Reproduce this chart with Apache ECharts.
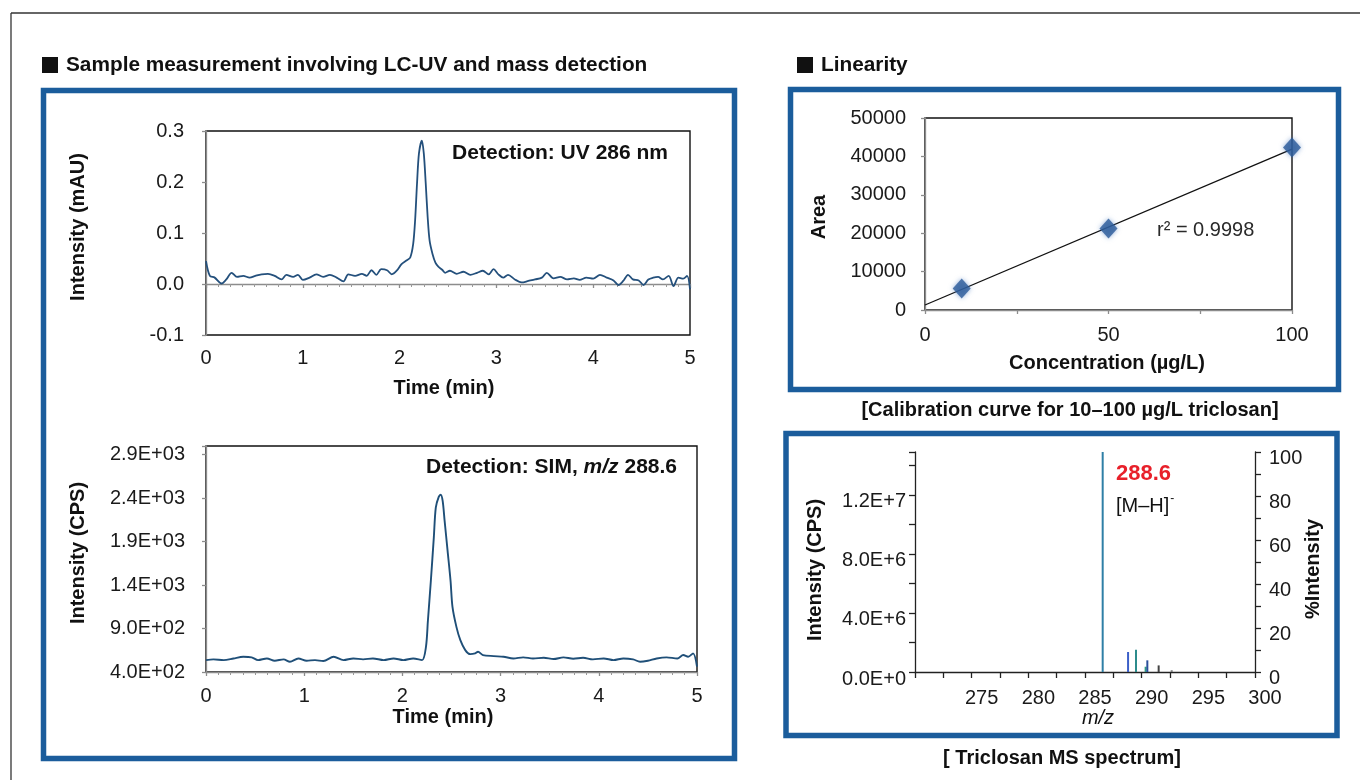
<!DOCTYPE html>
<html><head><meta charset="utf-8">
<script src="https://cdn.jsdelivr.net/npm/echarts@6.0.0/dist/echarts.min.js"></script>
<style>html,body{margin:0;padding:0;background:#fff}#c{width:1360px;height:780px}</style>
</head><body><div id="c"></div>
<script>
// ---------- Data ----------
const uvTime = [0,0.04,0.09,0.16,0.21,0.265,0.32,0.385,0.45,0.51,0.575,0.64,0.71,0.78,0.83,0.9,0.95,1.0,1.07,1.14,1.21,1.28,1.35,1.42,1.47,1.54,1.61,1.66,1.71,1.76,1.81,1.87,1.92,1.97,2.02,2.07,2.11,2.14,2.16,2.18,2.20,2.23,2.25,2.27,2.29,2.31,2.34,2.37,2.40,2.44,2.47,2.52,2.59,2.66,2.73,2.80,2.86,2.92,2.97,3.02,3.07,3.12,3.19,3.26,3.33,3.40,3.47,3.52,3.59,3.66,3.73,3.80,3.86,3.93,4.0,4.07,4.14,4.21,4.26,4.31,4.36,4.41,4.47,4.52,4.57,4.62,4.67,4.72,4.78,4.83,4.88,4.93,4.97,5.0];
const uvIntensity = [0.045,0.016,0.0125,0.001,0.009,0.022,0.014,0.016,0.0125,0.016,0.019,0.020,0.016,0.009,0.018,0.014,0.018,0.008,0.0125,0.019,0.014,0.018,0.0125,0.005,0.019,0.016,0.020,0.016,0.027,0.018,0.029,0.027,0.019,0.026,0.039,0.046,0.052,0.078,0.124,0.197,0.256,0.281,0.256,0.197,0.131,0.085,0.059,0.042,0.034,0.028,0.022,0.026,0.020,0.024,0.018,0.022,0.026,0.019,0.029,0.019,0.0125,0.018,0.009,0.003,0.006,0.009,0.0125,0.022,0.011,0.014,0.009,0.011,0.008,0.0125,0.0105,0.018,0.0125,0.007,-0.002,0.006,0.018,0.009,0.007,-0.002,0.009,0.0125,0.014,0.009,0.016,-0.004,0.0125,0.0105,0.016,-0.01];
const uvTicks = [-0.1,0,0.1,0.2,0.3];
const uvTickLabels = ['-0.1','0.0','0.1','0.2','0.3'];
const timeTicks = [0,1,2,3,4,5];
const timeTickLabels = ['0','1','2','3','4','5'];

const simTime = [0,0.075,0.18,0.28,0.38,0.465,0.53,0.62,0.70,0.79,0.855,0.94,1.025,1.11,1.195,1.30,1.40,1.50,1.60,1.70,1.81,1.91,2.01,2.11,2.20,2.24,2.26,2.29,2.32,2.34,2.37,2.39,2.41,2.43,2.46,2.49,2.51,2.55,2.59,2.64,2.69,2.74,2.77,2.82,2.93,3.03,3.13,3.23,3.33,3.44,3.54,3.64,3.74,3.84,3.94,4.05,4.15,4.25,4.35,4.42,4.50,4.59,4.69,4.80,4.86,4.91,4.96,5.0];
const simIntensity = [537,545,537,556,575,568,537,556,530,545,518,556,530,537,526,575,537,556,545,556,537,556,537,556,537,690,995,1453,1949,2292,2414,2440,2368,2139,1796,1453,1148,919,766,652,606,614,633,595,583,575,556,568,556,564,549,568,553,564,545,556,537,556,545,518,530,556,568,556,595,575,614,461];
const simTicks = [400,900,1400,1900,2400,2900];
const simTickLabels = ['4.0E+02','9.0E+02','1.4E+03','1.9E+03','2.4E+03','2.9E+03'];

const calConcentration = [10,50,100];
const calArea = [5600,21200,42300];
const trendConcentration = [0,100];
const trendArea = [1300,41900];
const areaTicks = [0,10000,20000,30000,40000,50000];
const areaTickLabels = ['0','10000','20000','30000','40000','50000'];
const concTicks = [0,50,100];
const concTickLabels = ['0','50','100'];

const msMz = [286.56,288.8,289.5,290.35,290.5,291.5,292.65];
const msPercent = [100,9.1,10.1,2.4,5.3,3,0.8];
const mzTicks = [275,280,285,290,295,300];
const mzTickLabels = ['275','280','285','290','295','300'];
const cpsTicks = [0,4000000,8000000,12000000];
const cpsTickLabels = ['0.0E+0','4.0E+6','8.0E+6','1.2E+7'];
const pctTicks = [0,20,40,60,80,100];
const pctTickLabels = ['0','20','40','60','80','100'];

// ---------- Styling helpers ----------
const FONT = "'Liberation Sans', Arial, Helvetica, sans-serif";
const msColors = ['#2f7fa6','#3b5fc8','#2c8c8c','#2f9a86','#2a4f9a','#444','#777'];

function fmt(ticks, labels){
  return function(v){
    for (let i = 0; i < ticks.length; i++) {
      if (Math.abs(ticks[i] - v) <= Math.abs(ticks[i]) * 1e-7 + 1e-7) return labels[i];
    }
    return '';
  };
}
function zip(a, b){ return a.map((x, i) => [x, b[i]]); }

const labelBase = {fontFamily: FONT, fontSize: 20, color: '#1a1a1a'};
const grayLine = {color: '#8c8c8c', width: 1.3};
const darkLine = {color: '#222', width: 1.3};

function axis(o){
  return Object.assign({type: 'value', splitLine: {show: false}}, o);
}

const chart = echarts.init(document.getElementById('c'), null, {renderer: 'canvas'});

function txt(x, y, text, opt){
  opt = opt || {};
  return {
    type: 'text', x: x, y: y, rotation: opt.rot || 0, z: 10,
    style: {
      text: text, fontFamily: FONT, fontSize: opt.size || 20,
      fontWeight: opt.weight || 'bold', fontStyle: opt.style || 'normal',
      fill: opt.fill || '#111', align: opt.align || 'center', verticalAlign: 'middle'
    }
  };
}
function box(x, y, w, h){
  return {type: 'rect', shape: {x: x, y: y, width: w, height: h}, z: 1,
    style: {fill: 'none', stroke: '#1b5d9c', lineWidth: 5.5}};
}
function square(x, y){
  return {type: 'rect', shape: {x: x, y: y, width: 16, height: 16}, z: 1, style: {fill: '#111'}};
}

const option = {
  backgroundColor: '#ffffff',
  animation: false,
  grid: [
    {left: 206, top: 131, width: 484, height: 204, show: true, borderColor: '#111', borderWidth: 1.4, backgroundColor: 'transparent'},
    {left: 206, top: 446, width: 491, height: 226, show: true, borderColor: '#111', borderWidth: 1.4, backgroundColor: 'transparent'},
    {left: 925, top: 118, width: 367, height: 192, show: true, borderColor: '#111', borderWidth: 1.4, backgroundColor: 'transparent'},
    {left: 915, top: 452, width: 340, height: 220, show: false}
  ],
  xAxis: [
    axis({gridIndex: 0, min: 0, max: 5, interval: 1,
      axisLine: {show: true, lineStyle: grayLine},
      axisTick: {show: true, length: 4, lineStyle: grayLine},
      minorTick: {show: true, splitNumber: 8, length: 3, lineStyle: {color: '#999'}},
      axisLabel: Object.assign({margin: 13, formatter: fmt(timeTicks, timeTickLabels)}, labelBase)}),
    axis({gridIndex: 1, min: 0, max: 5, interval: 1,
      axisLine: {show: true, lineStyle: grayLine},
      axisTick: {show: true, length: 4, lineStyle: grayLine},
      minorTick: {show: true, splitNumber: 8, length: 3, lineStyle: {color: '#999'}},
      axisLabel: Object.assign({margin: 14, formatter: fmt(timeTicks, timeTickLabels)}, labelBase)}),
    axis({gridIndex: 2, min: 0, max: 100, interval: 50,
      axisLine: {show: true, lineStyle: grayLine},
      axisTick: {show: true, length: 4, lineStyle: grayLine},
      minorTick: {show: true, splitNumber: 2, length: 4, lineStyle: grayLine},
      axisLabel: Object.assign({margin: 15, formatter: fmt(concTicks, concTickLabels)}, labelBase)}),
    axis({gridIndex: 3, min: 270, max: 300, interval: 2.5,
      axisLine: {show: true, lineStyle: darkLine},
      axisTick: {show: true, length: 6, lineStyle: darkLine},
      axisLabel: Object.assign({margin: 16, padding: [0, 0, 0, 20], formatter: fmt(mzTicks, mzTickLabels)}, labelBase)})
  ],
  yAxis: [
    axis({gridIndex: 0, min: -0.1, max: 0.3, interval: 0.1,
      axisLine: {show: true, lineStyle: grayLine},
      axisTick: {show: true, length: 4, lineStyle: grayLine},
      axisLabel: Object.assign({margin: 22, formatter: fmt(uvTicks, uvTickLabels)}, labelBase)}),
    axis({gridIndex: 1, min: 400, max: 3000, interval: 500,
      axisLine: {show: true, lineStyle: grayLine},
      axisTick: {show: true, length: 4, lineStyle: grayLine},
      axisLabel: Object.assign({margin: 21, formatter: fmt(simTicks, simTickLabels)}, labelBase)}),
    axis({gridIndex: 2, min: 0, max: 50000, interval: 10000,
      axisLine: {show: true, lineStyle: grayLine},
      axisTick: {show: true, length: 4, lineStyle: grayLine},
      axisLabel: Object.assign({margin: 19, formatter: fmt(areaTicks, areaTickLabels)}, labelBase)}),
    axis({gridIndex: 3, min: 0, max: 14900000, interval: 2000000,
      axisLine: {show: true, lineStyle: darkLine},
      axisTick: {show: true, length: 6, lineStyle: darkLine},
      axisLabel: Object.assign({margin: 9, verticalAlign: 'top', lineHeight: 14, formatter: fmt(cpsTicks, cpsTickLabels)}, labelBase)}),
    axis({gridIndex: 3, position: 'right', min: 0, max: 100, interval: 10,
      axisLine: {show: true, lineStyle: darkLine},
      axisTick: {show: true, length: 6, lineStyle: darkLine},
      axisLabel: Object.assign({margin: 14, verticalAlign: 'top', lineHeight: 12, formatter: fmt(pctTicks, pctTickLabels)}, labelBase)})
  ],
  series: [
    {type: 'line', xAxisIndex: 0, yAxisIndex: 0, data: zip(uvTime, uvIntensity),
      showSymbol: false, smooth: 0.3, lineStyle: {color: '#24507c', width: 1.8}, z: 3},
    {type: 'line', xAxisIndex: 1, yAxisIndex: 1, data: zip(simTime, simIntensity),
      showSymbol: false, smooth: 0.3, lineStyle: {color: '#1f4f78', width: 1.9}, z: 3},
    {type: 'line', xAxisIndex: 2, yAxisIndex: 2, data: zip(trendConcentration, trendArea),
      showSymbol: false, lineStyle: {color: '#111', width: 1.3}, z: 3},
    {type: 'scatter', xAxisIndex: 2, yAxisIndex: 2, data: zip(calConcentration, calArea),
      symbol: 'diamond', symbolSize: [18, 20],
      itemStyle: {color: '#2a5a98', shadowColor: 'rgba(70,120,190,0.7)', shadowBlur: 5}, z: 4},
    {type: 'bar', xAxisIndex: 3, yAxisIndex: 4, barWidth: 2, z: 3,
      data: msMz.map((m, i) => ({value: [m, msPercent[i]], itemStyle: {color: msColors[i]}}))}
  ],
  graphic: [
    {type: 'line', shape: {x1: 11, y1: 13, x2: 1360, y2: 13}, style: {stroke: '#333', lineWidth: 1.3}},
    {type: 'line', shape: {x1: 11, y1: 13, x2: 11, y2: 780}, style: {stroke: '#333', lineWidth: 1.3}},
    box(43.5, 90.5, 691, 668),
    box(790.5, 89.5, 548, 300),
    box(786, 433.5, 551, 302),
    square(42, 57), txt(66, 65, 'Sample measurement involving LC-UV and mass detection', {align: 'left', size: 20.8}),
    square(797, 57), txt(821, 65, 'Linearity', {align: 'left', size: 20.8}),
    txt(78, 227, 'Intensity (mAU)', {rot: Math.PI / 2}),
    txt(444, 388, 'Time (min)'),
    txt(668, 153, 'Detection: UV 286 nm', {align: 'right', size: 21}),
    txt(78, 553, 'Intensity (CPS)', {rot: Math.PI / 2}),
    txt(443, 717, 'Time (min)'),
    {type: 'text', x: 677, y: 467, z: 10, style: {
      text: '{b|Detection: SIM, }{i|m/z}{b| 288.6}', align: 'right', verticalAlign: 'middle',
      rich: {
        b: {fontFamily: FONT, fontSize: 21, fontWeight: 'bold', fill: '#111'},
        i: {fontFamily: FONT, fontSize: 21, fontWeight: 'bold', fontStyle: 'italic', fill: '#111'}
      }}},
    txt(819, 217, 'Area', {rot: Math.PI / 2}),
    txt(1107, 363, 'Concentration (µg/L)'),
    txt(1157, 230, 'r² = 0.9998', {align: 'left', weight: 'normal', fill: '#2a2a2a'}),
    txt(1070, 410, '[Calibration curve for 10–100 µg/L triclosan]'),
    txt(815, 570, 'Intensity (CPS)', {rot: Math.PI / 2}),
    txt(1313, 569, '%Intensity', {rot: Math.PI / 2}),
    txt(1098, 718, 'm/z', {weight: 'normal', style: 'italic'}),
    txt(1116, 474, '288.6', {align: 'left', size: 22, fill: '#e8202a'}),
    {type: 'text', x: 1116, y: 506, z: 10, style: {
      text: '{n|[M–H]}{s|-}', align: 'left', verticalAlign: 'middle',
      rich: {
        n: {fontFamily: FONT, fontSize: 20, fill: '#111'},
        s: {fontFamily: FONT, fontSize: 12, fill: '#111', padding: [0, 0, 14, 1]}
      }}},
    txt(1062, 758, '[ Triclosan MS spectrum]')
  ]
};
chart.setOption(option);
</script></body></html>
